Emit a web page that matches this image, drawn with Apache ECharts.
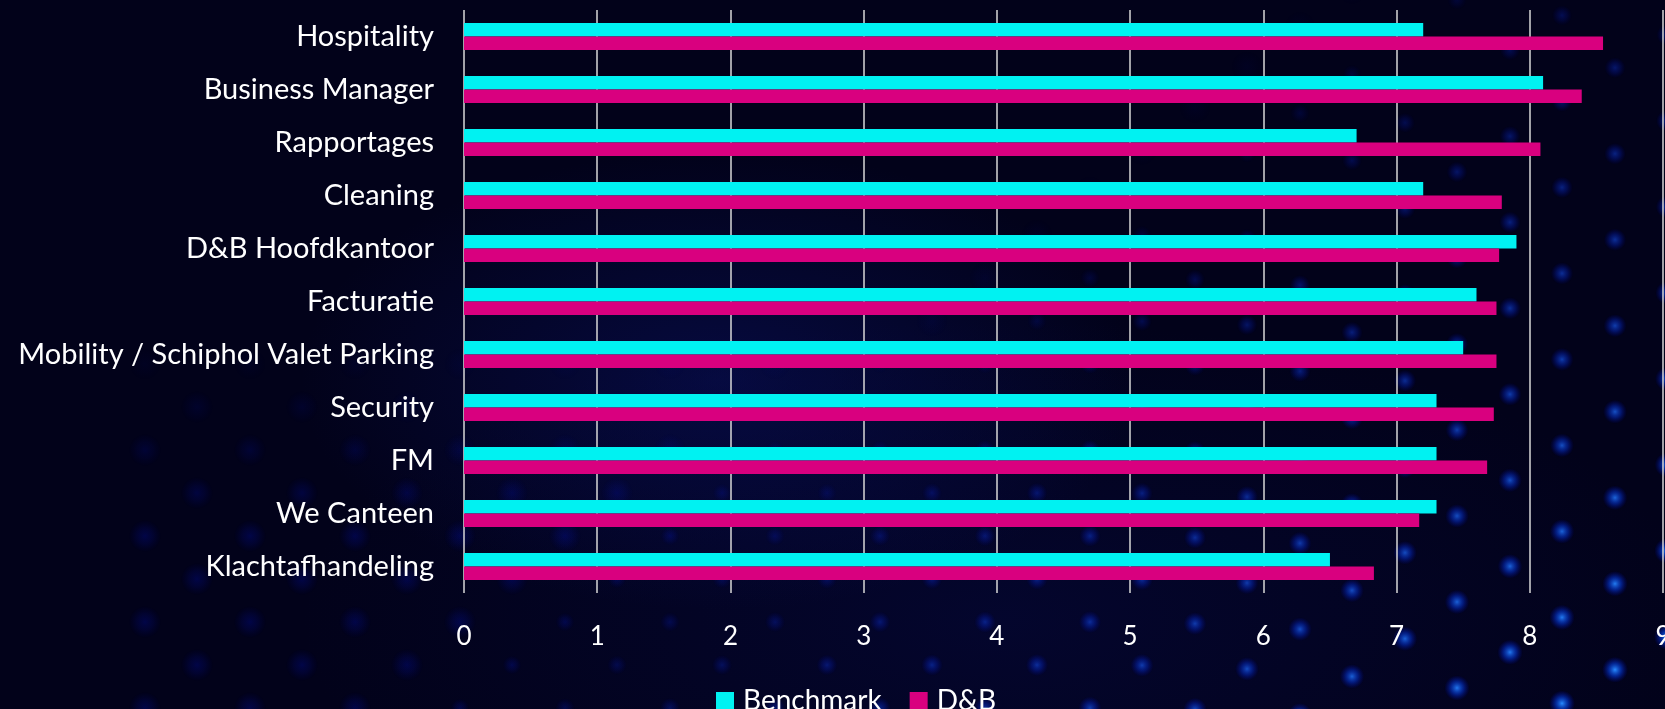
<!DOCTYPE html>
<html lang="en">
<head>
<meta charset="UTF-8">
<title>Benchmark vs D&amp;B</title>
<script src="https://cdn.jsdelivr.net/npm/echarts@6/dist/echarts.min.js"></script>
<style>
  html, body { margin: 0; padding: 0; }
  body {
    width: 1665px; height: 709px; overflow: hidden;
    background-color: #02021a;
    background-image:
      radial-gradient(ellipse 420px 230px at 720px 380px, rgba(12, 22, 120, 0.40), rgba(12, 22, 120, 0) 100%),
      radial-gradient(ellipse 700px 300px at 1000px 620px, rgba(8, 14, 90, 0.30), rgba(8, 14, 90, 0) 100%);
  }
  #chart { width: 1665px; height: 709px; }
</style>
</head>
<body>
<div id="chart"></div>
<script>
  // categories, top to bottom
  var categories = ['Hospitality', 'Business Manager', 'Rapportages', 'Cleaning', 'D&B Hoofdkantoor',
    'Facturatie', 'Mobility / Schiphol Valet Parking', 'Security', 'FM', 'We Canteen', 'Klachtafhandeling'];
  var benchmark = [7.2, 8.1, 6.7, 7.2, 7.9, 7.6, 7.5, 7.3, 7.3, 7.3, 6.5];
  var dnb = [8.55, 8.39, 8.08, 7.79, 7.77, 7.75, 7.75, 7.73, 7.68, 7.17, 6.83];
  var xTicks = [0, 1, 2, 3, 4, 5, 6, 7, 8, 9];

  var font = 'Lato';

  function clamp(v) { return Math.max(0, Math.min(1, v)); }

  // decorative glowing dot pattern in the background
  function dots() {
    var out = [];
    for (var j = -1; j < 18; j++) {
      for (var i = -1; i < 17; i++) {
        var x = 250 + i * 105 + (j % 2 ? 52 : 0);
        var y = 20 + j * 43;
        if (x > 1100) y += 0.00018 * (x - 1100) * (x - 1100);
        var t = (x / 1665) * 0.9 + (y / 709) * 0.5;
        var a = clamp((t - 0.7) * 1.6);
        // faint blurred blobs further away
        var faint = y > 330 ? 0.2 * clamp((y - 330) / 200) : 0;
        if (a <= 0.02 && faint < 0.03) continue;
        var r = a > 0.05 ? 9 + a * 4 : 16;
        var cr = Math.round(40 * a), cg = Math.round(20 + 120 * a);
        var alpha = Math.max(a, faint);
        out.push({
          type: 'circle', silent: true, z: -10,
          shape: { cx: x, cy: y, r: r },
          style: {
            fill: new echarts.graphic.RadialGradient(0.5, 0.5, 0.5, [
              { offset: 0, color: 'rgba(' + cr + ',' + cg + ',255,' + alpha + ')' },
              { offset: 0.5, color: 'rgba(5,' + Math.round(20 + 40 * a) + ',220,' + (alpha * 0.6) + ')' },
              { offset: 1, color: 'rgba(0,10,180,0)' }
            ])
          }
        });
      }
    }
    return out;
  }

  var myChart = echarts.init(document.getElementById('chart'));
  var option = {
    backgroundColor: 'transparent',
    animation: false,
    textStyle: { fontFamily: font },
    graphic: dots(),
    grid: { left: 464, right: 2, top: 10, bottom: 116, containLabel: false, outerBoundsMode: 'none' },
    legend: {
      left: 711, top: 682,
      icon: 'rect', itemWidth: 18, itemHeight: 18, itemGap: 28,
      textStyle: { color: '#ffffff', fontSize: 28, fontFamily: font, padding: [0, 0, 0, 4] },
      data: ['Benchmark', 'D&B']
    },
    xAxis: {
      type: 'value', min: xTicks[0], max: xTicks[xTicks.length - 1], interval: 1,
      axisLine: { show: false },
      axisTick: { show: false },
      axisLabel: { color: '#ffffff', fontSize: 26, margin: 31, fontFamily: font },
      splitLine: { show: true, lineStyle: { color: '#d9d9d9', width: 1.5 } }
    },
    yAxis: {
      type: 'category', inverse: true, data: categories,
      axisLine: { show: false },
      axisTick: { show: false },
      axisLabel: { color: '#ffffff', fontSize: 29, margin: 30, fontFamily: font }
    },
    series: [
      { name: 'Benchmark', type: 'bar', data: benchmark, barWidth: 13.6, barGap: '0%',
        itemStyle: { color: '#00f2f2' } },
      { name: 'D&B', type: 'bar', data: dnb, barWidth: 13.6, barGap: '0%',
        itemStyle: { color: '#d9007f' } }
    ]
  };
  myChart.setOption(option);
</script>
</body>
</html>
